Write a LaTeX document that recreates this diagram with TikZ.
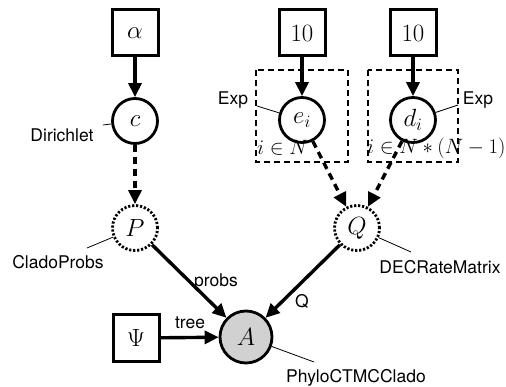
\documentclass[tikz,border=0pt]{standalone}
\usepackage{fontspec}
\newfontfamily\labfont{TeX Gyre Heros}
\usetikzlibrary{arrows.meta}
\begin{document}
\begin{tikzpicture}[x=1pt,y=-1pt,
  const/.style={draw,line width=3pt,minimum size=46pt,inner sep=0pt,font=\fontsize{25}{27}\selectfont},
  stoch/.style={draw,circle,line width=2.8pt,minimum size=45pt,inner sep=0pt,font=\fontsize{25}{27}\selectfont},
  determ/.style={stoch,dash pattern=on 2.2pt off 1.8pt},
  obs/.style={stoch,fill=black!18,minimum size=52pt,font=\fontsize{28}{30}\selectfont},
  plate/.style={draw,line width=2.2pt,dash pattern=on 6pt off 4pt},
  arr/.style={line width=3.4pt,-{Triangle[length=14pt,width=13pt]}},
  darr/.style={arr,dash pattern=on 7pt off 5pt},
  lab/.style={font=\labfont\fontsize{17.5}{19}\selectfont,inner sep=0pt},
  plab/.style={font=\fontsize{20}{22}\selectfont,inner sep=0pt,anchor=west},
  lline/.style={line width=0.8pt}]
\useasboundingbox (0,0) rectangle (506,387);
% nodes
\node[const] (alpha) at (135,33) {$\alpha$};
\node[stoch] (c) at (135,121) {$c$};
\node[determ] (P) at (135,228) {$P$};
\node[const] (ten1) at (302,33) {$10$};
\node[const] (ten2) at (413,33) {$10$};
\node[stoch] (e) at (302,120) {$e_i$};
\node[stoch] (d) at (413,120) {$d_i$};
\node[determ] (Q) at (357,228) {$Q$};
\node[obs] (A) at (246,337) {$A$};
\node[const] (Psi) at (136,338) {$\Psi$};
% plates
\draw[plate] (256,70) rectangle (348,162);
\draw[plate] (368,70) rectangle (458,162);
\node[plab] (pl1) at (257,148) {$i\in N$};
\node[plab] (pl2) at (367,148) {$i\in N*(N-1)$};
% labels
\node[lab] (dir) at (62,135) {Dirichlet};
\coordinate (dirl) at (103,125);
\draw[lline] (c) -- (dirl);
\node[lab] (clado) at (58,262) {CladoProbs};
\coordinate (cladol) at (87,248);
\draw[lline] (P) -- (cladol);
\node[lab] (dec) at (440,267) {DECRateMatrix};
\coordinate (decl) at (411,252);
\draw[lline] (Q) -- (decl);
\node[lab] (phylo) at (356,378) {PhyloCTMCClado};
\coordinate (phylol) at (314,362);
\draw[lline] (A) -- (phylol);
\node[lab] (exp1) at (233,100) {Exp};
\coordinate (exp1l) at (257,106);
\draw[lline] (e) -- (exp1l);
\node[lab] (exp2) at (478,100) {Exp};
\coordinate (exp2l) at (458,105);
\draw[lline] (d) -- (exp2l);
% arrows
\draw[arr] (alpha) -- (c);
\draw[arr] (ten1) -- (e);
\draw[arr] (ten2) -- (d);
\draw[darr] (c) -- (P);
\draw[darr] (e) -- (Q);
\draw[darr] (d) -- (Q);
\draw[arr] (P) -- (A);
\draw[arr] (Q) -- (A);
\draw[arr] (Psi) -- (A);
\node[lab] (probs) at (216,282) {probs};
\node[lab] (qlab) at (302,301) {Q};
\node[lab] (tree) at (190,323) {tree};
\end{tikzpicture}
\end{document}
